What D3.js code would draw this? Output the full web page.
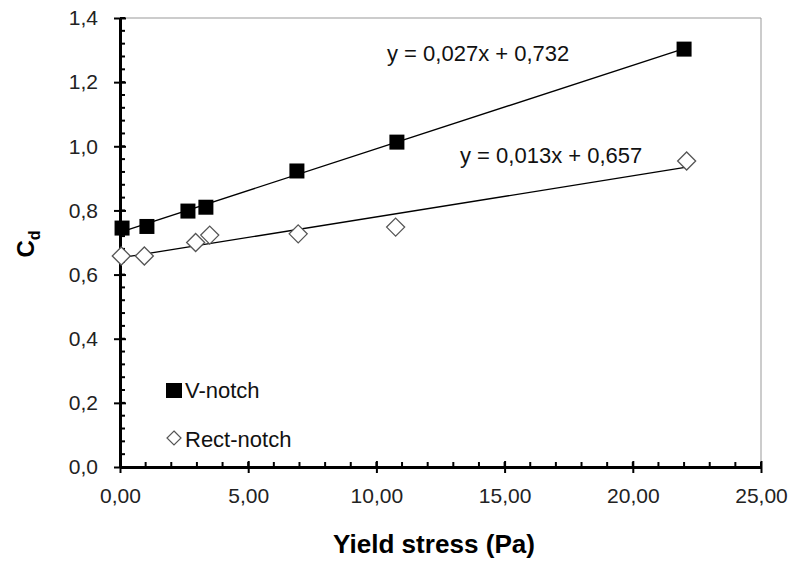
<!DOCTYPE html>
<html>
<head>
<meta charset="utf-8">
<script src="https://cdn.jsdelivr.net/npm/d3@7"></script>
<style>
  body { margin: 0; background: #fff; }
  svg { font-family: "Liberation Sans", Arial, sans-serif; }
</style>
</head>
<body>
<svg width="792" height="565"></svg>
<script>
// values
const vX = [0.08, 1.05, 2.65, 3.35, 6.9, 10.8, 22.0];
const vY = [0.745, 0.75, 0.798, 0.81, 0.923, 1.013, 1.303];
const rX = [0.05, 0.95, 2.95, 3.5, 6.95, 10.75, 22.1];
const rY = [0.658, 0.658, 0.70, 0.723, 0.727, 0.748, 0.954];
const xTicks = [0, 5, 10, 15, 20, 25];
const yTicks = [0, 0.2, 0.4, 0.6, 0.8, 1.0, 1.2, 1.4];
const eqV = "y = 0,027x + 0,732";
const eqR = "y = 0,013x + 0,657";

const svg = d3.select("svg");
const x = d3.scaleLinear().domain([0, 25]).range([120, 761]);
const y = d3.scaleLinear().domain([0, 1.4]).range([467, 18]);

const fmtX = d => d.toFixed(2).replace(".", ",");
const fmtY = d => d.toFixed(1).replace(".", ",");

// plot border (grey top/right)
svg.append("path")
  .attr("d", `M${x(0)},${y(1.4)}H${x(25)}V${y(0)}`)
  .attr("fill", "none").attr("stroke", "#999").attr("stroke-width", 1);

// minor ticks
const g = svg.append("g");
d3.range(0, 1.4001, 0.04).forEach(v => {
  g.append("line").attr("x1", x(0)).attr("x2", x(0) + 5)
    .attr("y1", y(v)).attr("y2", y(v)).attr("stroke", "#000").attr("stroke-width", 2);
});
d3.range(0, 25.001, 1).forEach(v => {
  g.append("line").attr("x1", x(v)).attr("x2", x(v))
    .attr("y1", y(0)).attr("y2", y(0) - 5).attr("stroke", "#000").attr("stroke-width", 2);
});

// axes
const xAxis = svg.append("g").attr("transform", `translate(0,${y(0)})`)
  .call(d3.axisBottom(x).tickValues(xTicks).tickFormat(fmtX).tickSizeInner(6).tickSizeOuter(0).tickPadding(15));
const yAxis = svg.append("g").attr("transform", `translate(${x(0)},0)`)
  .call(d3.axisLeft(y).tickValues(yTicks).tickFormat(fmtY).tickSizeInner(6).tickSizeOuter(0).tickPadding(16));
[xAxis, yAxis].forEach(a => {
  a.select(".domain").attr("stroke", "#000").attr("stroke-width", 3);
  a.selectAll(".tick line").attr("stroke", "#000").attr("stroke-width", 2);
  a.selectAll(".tick text").attr("font-size", 21).attr("fill", "#222")
    .attr("font-family", "Liberation Sans, Arial, sans-serif");
});
// majors cross both sides
svg.selectAll(".tick line").each(function() {
  const l = d3.select(this);
  if (l.attr("x2")) l.attr("x1", 6);
  if (l.attr("y2")) l.attr("y1", -6);
});

// trend lines (least squares through the points)
function fit(xs, ys) {
  const mx = d3.mean(xs), my = d3.mean(ys);
  let num = 0, den = 0;
  xs.forEach((xv, i) => { num += (xv - mx) * (ys[i] - my); den += (xv - mx) ** 2; });
  const b = num / den;
  return { b, a: my - b * mx };
}
[[vX, vY], [rX, rY]].forEach(([xs, ys]) => {
  const f = fit(xs, ys);
  const x0 = d3.min(xs), x1 = d3.max(xs);
  svg.append("line")
    .attr("x1", x(x0)).attr("y1", y(f.a + f.b * x0))
    .attr("x2", x(x1)).attr("y2", y(f.a + f.b * x1))
    .attr("stroke", "#000").attr("stroke-width", 1.3);
});

// markers
svg.append("g").selectAll("rect").data(vX).join("rect")
  .attr("x", (d) => x(d) - 7.5).attr("y", (d, i) => y(vY[i]) - 7.5)
  .attr("width", 15).attr("height", 15).attr("fill", "#000");
svg.append("g").selectAll("path").data(rX).join("path")
  .attr("transform", (d, i) => `translate(${x(d)},${y(rY[i])})`)
  .attr("d", "M0,-9L9,0L0,9L-9,0Z")
  .attr("fill", "#fff").attr("stroke", "#555").attr("stroke-width", 1.3);

// equations
svg.append("text").attr("x", 387).attr("y", 61).attr("font-size", 22).attr("fill", "#111").text(eqV);
svg.append("text").attr("x", 460).attr("y", 163).attr("font-size", 22).attr("fill", "#111").text(eqR);

// legend
svg.append("rect").attr("x", 166).attr("y", 383).attr("width", 16).attr("height", 15).attr("fill", "#000");
svg.append("text").attr("x", 185).attr("y", 398).attr("font-size", 22).attr("fill", "#111").text("V-notch");
svg.append("path").attr("transform", "translate(174,438)").attr("d", "M0,-7L7,0L0,7L-7,0Z")
  .attr("fill", "#fff").attr("stroke", "#555").attr("stroke-width", 1.2);
svg.append("text").attr("x", 185).attr("y", 447).attr("font-size", 22).attr("fill", "#111").text("Rect-notch");

// axis titles
svg.append("text").attr("x", 434).attr("y", 553).attr("text-anchor", "middle")
  .attr("font-size", 25).attr("font-weight", "bold")
  .attr("textLength", 202).attr("lengthAdjust", "spacingAndGlyphs").text("Yield stress (Pa)");
const yt = svg.append("text").attr("transform", "translate(34,244) rotate(-90)")
  .attr("text-anchor", "middle").attr("font-size", 24).attr("font-weight", "bold");
yt.append("tspan").text("C");
yt.append("tspan").attr("font-size", 16).attr("dy", 6).text("d");
</script>
</body>
</html>
